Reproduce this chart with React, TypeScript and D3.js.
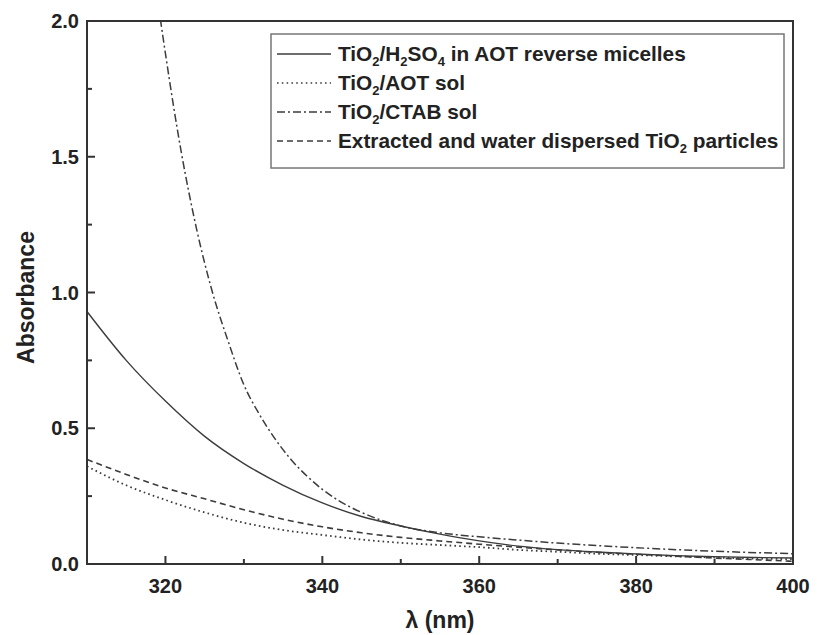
import React from "react";
import * as d3 from "d3";

const wavelengths = [310, 315, 320, 325, 330, 335, 340, 345, 350, 355, 360, 365, 370, 375, 380, 385, 390, 395, 400];
const h2so4Aot = [0.93, 0.75, 0.6, 0.47, 0.37, 0.29, 0.225, 0.175, 0.14, 0.11, 0.085, 0.066, 0.053, 0.044, 0.037, 0.031, 0.027, 0.024, 0.022];
const aotSol = [0.36, 0.29, 0.236, 0.19, 0.152, 0.125, 0.107, 0.09, 0.078, 0.07, 0.062, 0.052, 0.045, 0.038, 0.033, 0.028, 0.024, 0.02, 0.018];
const extracted = [0.385, 0.33, 0.28, 0.24, 0.2, 0.165, 0.137, 0.115, 0.098, 0.085, 0.073, 0.062, 0.052, 0.043, 0.036, 0.029, 0.022, 0.016, 0.01];
const ctabWavelengths = [318, 319, 320, 322, 324, 326, 328, 330, 332, 334, 336, 338, 340, 342, 345, 350, 355, 360, 365, 370, 380, 390, 400];
const ctabSol = [2.3, 2.08, 1.88, 1.52, 1.23, 1.0, 0.82, 0.66, 0.55, 0.46, 0.385, 0.325, 0.275, 0.235, 0.19, 0.14, 0.115, 0.1, 0.088, 0.077, 0.06, 0.047, 0.038];

const xMajor = [320, 340, 360, 380, 400];
const xMinor = [330, 350, 370, 390];
const yMajor = [0, 0.5, 1.0, 1.5, 2.0];
const yMinor = [0.25, 0.75, 1.25, 1.75];

const W = 822, H = 635;
const L = 87, R = 793, T = 21, B = 564;
const FONT = "'Liberation Sans', Arial, sans-serif";

export default function App() {
  const x = d3.scaleLinear().domain([310, 400]).range([L, R]);
  const y = d3.scaleLinear().domain([0, 2]).range([B, T]);
  const line = d3.line<[number, number]>().x(d => x(d[0])).y(d => y(d[1])).curve(d3.curveMonotoneX);
  const zip = (xs: number[], ys: number[]) => xs.map((v, i) => [v, ys[i]] as [number, number]);

  const stroke = "#3c3c3c";
  const series = [
    { key: "s", data: zip(wavelengths, h2so4Aot), dash: "none", w: 1.4 },
    { key: "d", data: zip(wavelengths, aotSol), dash: "1.6,3.2", w: 1.8 },
    { key: "c", data: zip(ctabWavelengths, ctabSol), dash: "8,3,2,3", w: 1.5 },
    { key: "e", data: zip(wavelengths, extracted), dash: "6,4", w: 1.6 },
  ];

  const legendRows = [
    { dash: "none", w: 1.4, parts: [["TiO", 0], ["2", 1], ["/H", 0], ["2", 1], ["SO", 0], ["4", 1], [" in AOT reverse micelles", 0]] },
    { dash: "1.6,3.2", w: 1.6, parts: [["TiO", 0], ["2", 1], ["/AOT sol", 0]] },
    { dash: "8,3,2,3", w: 1.5, parts: [["TiO", 0], ["2", 1], ["/CTAB sol", 0]] },
    { dash: "6,4", w: 1.6, parts: [["Extracted and water dispersed TiO", 0], ["2", 1], [" particles", 0]] },
  ];
  const LF = 20.8;

  return (
    <svg width={W} height={H} style={{ position: "absolute", left: 0, top: 0, background: "#fff" }} fontFamily={FONT}>
      <defs>
        <clipPath id="plotClip">
          <rect x={L} y={T} width={R - L} height={B - T} />
        </clipPath>
      </defs>
      <g clipPath="url(#plotClip)">
        {series.map(s => (
          <path key={s.key} d={line(s.data) || ""} fill="none" stroke={stroke} strokeWidth={s.w} strokeDasharray={s.dash} />
        ))}
      </g>
      <rect x={L} y={T} width={R - L} height={B - T} fill="none" stroke="#333" strokeWidth={2} />
      {xMajor.map(v => (
        <g key={"xm" + v}>
          <line x1={x(v)} x2={x(v)} y1={B} y2={B - 8} stroke="#333" strokeWidth={2} />
          <text x={x(v)} y={593} textAnchor="middle" fontSize={20} fontWeight="bold" fill="#222">{v}</text>
        </g>
      ))}
      {xMinor.map(v => (
        <line key={"xn" + v} x1={x(v)} x2={x(v)} y1={B} y2={B - 5} stroke="#333" strokeWidth={2} />
      ))}
      <text x={(L + R) / 2} y={628} textAnchor="middle" fontSize={23} fontWeight="bold" fill="#222">λ (nm)</text>
      {yMajor.map(v => (
        <g key={"ym" + v}>
          <line x1={L} x2={L + 8} y1={y(v)} y2={y(v)} stroke="#333" strokeWidth={2} />
          <text x={79} y={y(v) + 7} textAnchor="end" fontSize={20} fontWeight="bold" fill="#222">{v.toFixed(1)}</text>
        </g>
      ))}
      {yMinor.map(v => (
        <line key={"yn" + v} x1={L} x2={L + 5} y1={y(v)} y2={y(v)} stroke="#333" strokeWidth={2} />
      ))}
      <text transform={`translate(34,${(T + B) / 2 + 5}) rotate(-90)`} textAnchor="middle" fontSize={23} fontWeight="bold" fill="#222">Absorbance</text>
      <rect x={271} y={34} width={513} height={134} fill="#fff" stroke="#777" strokeWidth={1.5} />
      {legendRows.map((r, i) => {
        const by = 61 + i * 29;
        return (
          <g key={"lg" + i}>
            <line x1={277} x2={331} y1={by - 7} y2={by - 7} stroke={stroke} strokeWidth={r.w} strokeDasharray={r.dash} />
            <text x={338} y={by} fontSize={LF} fontWeight="bold" fill="#222">
              {r.parts.map((p, j) => (
                <tspan key={j} fontSize={p[1] ? 13 : LF} dy={p[1] ? 5 : (j > 0 && r.parts[j - 1][1] ? -5 : 0)}>{p[0] as string}</tspan>
              ))}
            </text>
          </g>
        );
      })}
    </svg>
  );
}
